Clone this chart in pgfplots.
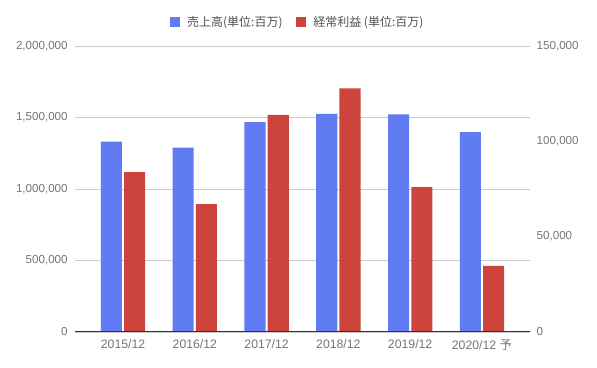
\documentclass[border=0pt]{standalone}
\usepackage{pgfplots}
\pgfplotsset{compat=1.18}
\usepackage{fontspec}
\setmainfont{Liberation Sans}
\newfontfamily\cjk{Noto Sans CJK JP}
\definecolor{bblue}{RGB}{97,124,242}
\definecolor{rred}{RGB}{204,68,60}
\definecolor{tickgray}{RGB}{117,117,117}
\definecolor{leggray}{RGB}{80,80,80}
\definecolor{gridgray}{RGB}{204,204,204}
\begin{document}
\begin{tikzpicture}
\pgfplotsset{
  base/.style={
    scale only axis, width=341.25pt, height=214.5pt,
    at={(0,0)}, anchor=south west,
    xmin=-0.67, xmax=5.67, ymin=0,
    axis line style={draw=none},
    major tick length=0pt,
    tick style={draw=none},
    /pgf/number format/assume math mode=true,
    scaled y ticks=false,
    yticklabel style={font=\fontsize{8.7}{10}\selectfont, text=tickgray,
      /pgf/number format/fixed, /pgf/number format/1000 sep={,}},
    xticklabel style={font=\fontsize{9.2}{11}\selectfont, text=tickgray, yshift=-2pt},
  }
}
\begin{axis}[base,
  ymax=2000000,
  ytick={0,500000,1000000,1500000,2000000},
  ymajorgrids, grid style={draw=gridgray, line width=0.6pt},
  xtick={0,1,2,3,4,5},
  xticklabels={2015/12,2016/12,2017/12,2018/12,2019/12,{2020/12 {\cjk 予}}},
  yticklabel style={xshift=-2pt},
]
\addplot[ybar, bar width=0.293, bar shift=-0.162, fill=bblue, draw=none]
  coordinates {(0,1331000) (1,1289000) (2,1467000) (3,1525000) (4,1521000) (5,1397000)};
\end{axis}
\begin{axis}[base,
  ymax=150000,
  ytick={0,50000,100000,150000},
  yticklabel pos=right,
  yticklabel style={anchor=west, xshift=1.5pt},
  xtick=\empty,
  legend image code/.code={\fill[#1] (0pt,-3.75pt) rectangle (7.5pt,3.75pt); \path (11pt,0pt);},
  legend style={draw=none, fill=none, at={(0.49,1.083)}, anchor=center,
    font=\fontsize{9}{11}\selectfont, text=leggray,
    /tikz/every even column/.append style={column sep=8pt}},
  legend columns=2,
]
\addlegendimage{fill=bblue, draw=none}
\addlegendentry{\cjk 売上高(単位:百万)}
\addlegendimage{fill=rred, draw=none}
\addlegendentry{\cjk 経常利益 (単位:百万)}
\addplot[ybar, bar width=0.293, bar shift=0.162, fill=rred, draw=none, forget plot]
  coordinates {(0,83900) (1,67100) (2,113900) (3,127800) (4,76000) (5,34700)};
\draw[black!80, line width=0.8pt] (rel axis cs:0,0) -- (rel axis cs:1,0);
\end{axis}
\path[use as bounding box] (-56.25pt,-27pt) rectangle (391.5pt,249pt);
\end{tikzpicture}
\end{document}
